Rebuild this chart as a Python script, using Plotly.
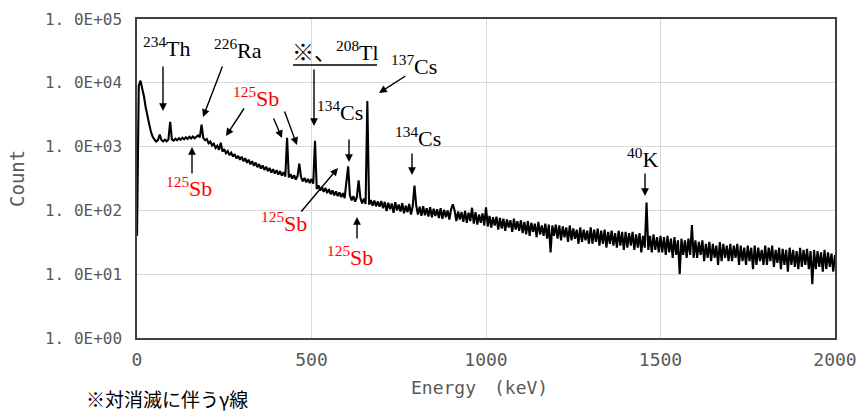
import plotly.graph_objects as go

# ---------------- data ----------------
ENERGY_START_KEV = 0
ENERGY_STEP_KEV = 5

counts_0000 = [40, 9000, 10800, 8200, 6100, 4100, 2900, 2250, 1700, 1420, 1290, 1200, 1260, 1190, 1270, 1205, 1285, 1215, 1290, 1225]
counts_0100 = [1300, 1240, 1330, 1260, 1355, 1280, 1380, 1300, 1400, 1320, 1425, 1340, 1440, 1350, 1430, 1330, 1400, 1300, 1360, 1260]
counts_0200 = [1310, 1130, 1200, 1040, 1110, 955, 1030, 890, 970, 835, 910, 785, 850, 735, 800, 695, 760, 655, 715, 620]
counts_0300 = [696, 588, 658, 556, 623, 527, 591, 500, 561, 475, 533, 452, 507, 431, 484, 411, 462, 392, 442, 377]
counts_0400 = [428, 365, 413, 352, 398, 339, 383, 327, 370, 316, 357, 305, 345, 294, 333, 285, 322, 275, 312, 268]
counts_0500 = [313, 262, 300, 216, 246, 204, 234, 195, 224, 187, 215, 179, 206, 172, 199, 167, 192, 161, 186, 156]
counts_0600 = [183, 149, 174, 143, 168, 137, 161, 133, 157, 129, 153, 126, 149, 123, 145, 119, 142, 116, 138, 114]
counts_0700 = [140, 108, 136, 98, 132, 104, 128, 92, 134, 100, 124, 96, 130, 90, 118, 94, 126, 86, 116, 92]
counts_0800 = [120, 86, 114, 82, 116, 84, 108, 80, 112, 78, 106, 82, 104, 76, 108, 74, 102, 78, 100, 72]
counts_0900 = [104, 70, 100, 68, 96, 72, 94, 66, 98, 64, 92, 68, 88, 62, 94, 60, 86, 64, 90, 58]
counts_1000 = [86, 56, 82, 54, 78, 58, 80, 50, 76, 52, 74, 48, 72, 54, 70, 46, 74, 50, 68, 48]
counts_1100 = [70, 44, 66, 42, 68, 40, 64, 46, 62, 38, 66, 42, 58, 40, 62, 36, 60, 22, 58, 40]
counts_1200 = [60, 36, 58, 34, 56, 38, 54, 32, 58, 34, 52, 36, 50, 30, 54, 32, 50, 34, 48, 30]
counts_1300 = [54, 30, 50, 32, 52, 28, 48, 30, 50, 26, 46, 30, 48, 28, 44, 26, 48, 28, 46, 24]
counts_1400 = [46, 26, 44, 28, 46, 24, 42, 26, 44, 22, 40, 26, 42, 24, 40, 22, 42, 24, 38, 22]
counts_1500 = [40, 22, 38, 20, 40, 22, 36, 18, 38, 20, 34, 10, 36, 20, 34, 18, 36, 20, 32, 18]
counts_1600 = [34, 18, 32, 20, 34, 16, 30, 18, 32, 16, 30, 18, 28, 14, 32, 16, 30, 18, 28, 16]
counts_1700 = [30, 16, 28, 18, 30, 14, 28, 16, 26, 14, 28, 16, 26, 12, 28, 14, 26, 16, 24, 14]
counts_1800 = [28, 14, 26, 16, 28, 13, 24, 15, 26, 12, 25, 14, 24, 11, 26, 14, 24, 13, 23, 12]
counts_1900 = [26, 13, 24, 14, 25, 12, 23, 7, 24, 12, 23, 13, 22, 11, 24, 12, 22, 13, 21, 11, 20]

# photo-peaks (energy keV, peak count)
peak_energies = [65, 95, 175, 185, 240, 430, 465, 510, 600, 605, 635, 660, 795, 905, 960, 1000, 1460, 1590]
peak_counts = [1550, 2450, 1500, 2200, 1150, 1380, 540, 1230, 280, 490, 295, 5200, 245, 125, 110, 112, 133, 59]

y_tick_values = [1, 10, 100, 1000, 10000, 100000]
y_tick_labels = ["1. 0E+00", "1. 0E+01", "1. 0E+02", "1. 0E+03", "1. 0E+04", "1. 0E+05"]
x_tick_values = [0, 500, 1000, 1500, 2000]

# ---------------- build series ----------------
counts = (counts_0000 + counts_0100 + counts_0200 + counts_0300 + counts_0400 +
          counts_0500 + counts_0600 + counts_0700 + counts_0800 + counts_0900 +
          counts_1000 + counts_1100 + counts_1200 + counts_1300 + counts_1400 +
          counts_1500 + counts_1600 + counts_1700 + counts_1800 + counts_1900)
energies = [ENERGY_START_KEV + i * ENERGY_STEP_KEV for i in range(len(counts))]
for e, c in zip(peak_energies, peak_counts):
    idx = int(round((e - ENERGY_START_KEV) / ENERGY_STEP_KEV))
    counts[idx] = max(counts[idx], c)

fig = go.Figure(go.Scatter(x=energies, y=counts, mode="lines",
                           line=dict(color="black", width=2.1),
                           hoverinfo="skip", showlegend=False))

# ---------------- layout ----------------
W, H = 862, 414
L, R, T, B = 137, 835, 19, 338


def px(x):
    return (x - L) / (R - L)


def py(y):
    return (B - y) / (B - T)


mono = "DejaVu Sans Mono"
fig.update_layout(
    width=W, height=H, autosize=False,
    margin=dict(l=L, r=W - R, t=T, b=H - B, pad=0, autoexpand=False),
    paper_bgcolor="white", plot_bgcolor="white",
    xaxis=dict(range=[0, 2000], tickvals=x_tick_values, showgrid=True,
               gridcolor="#d9d9d9", gridwidth=1, zeroline=False, automargin=False,
               showline=True, linecolor="#404040", linewidth=1.5, mirror=True,
               ticks="", tickfont=dict(family=mono, size=18, color="#595959"),
               ticklabelstandoff=5),
    yaxis=dict(type="log", range=[0, 5], tickvals=y_tick_values, automargin=False,
               ticktext=y_tick_labels, showgrid=True, gridcolor="#d9d9d9",
               gridwidth=1, zeroline=False, showline=True, linecolor="#404040",
               linewidth=1.5, mirror=True, ticks="",
               tickfont=dict(family=mono, size=16, color="#595959"),
               ticklabelstandoff=10),
)

annotations = []
serif = "Liberation Serif, Noto Sans CJK JP"
labels = [
    ("<sup>234</sup>Th", 167, 47, "black"),
    ("<sup>226</sup>Ra", 238, 49, "black"),
    ("<sup>125</sup>Sb", 256, 97, "red"),
    ("<sup>125</sup>Sb", 189, 187, "red"),
    ("※、<sup>208</sup>Tl", 335, 51, "black"),
    ("<sup>137</sup>Cs", 414, 65, "black"),
    ("<sup>134</sup>Cs", 340, 111, "black"),
    ("<sup>134</sup>Cs", 418, 137, "black"),
    ("<sup>125</sup>Sb", 284, 222, "red"),
    ("<sup>125</sup>Sb", 350, 256, "red"),
    ("<sup>40</sup>K", 642, 158, "black"),
]
for text, x, y, col in labels:
    annotations.append(dict(text=text, x=px(x), y=py(y), xref="paper", yref="paper",
                            xanchor="center", yanchor="middle", showarrow=False,
                            font=dict(family=serif, size=22, color=col)))

arrows = [  # (tail x, tail y, tip x, tip y) in pixels
    (163, 65, 163, 111),
    (223, 65, 203, 117),
    (245, 107, 226, 136),
    (273, 117, 282, 138),
    (284, 110, 297, 145),
    (192, 175, 192, 147),
    (314, 68, 314, 126),
    (407, 75, 379, 93),
    (349, 138, 349, 162),
    (412, 152, 412, 175),
    (300, 213, 338, 168),
    (357, 240, 357, 217),
    (645, 172, 645, 196),
]
for tx, ty, hx, hy in arrows:
    annotations.append(dict(text="", x=px(hx), y=py(hy), xref="paper", yref="paper",
                            ax=tx - hx, ay=ty - hy, showarrow=True, arrowhead=2,
                            arrowsize=1.1, arrowwidth=1.4, arrowcolor="black",
                            standoff=0, startstandoff=0))

annotations.append(dict(text="Count", x=px(17), y=py(179), xref="paper", yref="paper",
                        textangle=-90, showarrow=False, xanchor="center", yanchor="middle",
                        font=dict(family=mono, size=19, color="#595959")))
annotations.append(dict(text="Energy\u3000(keV)", x=px(479), y=py(387), xref="paper",
                        yref="paper", showarrow=False, xanchor="center", yanchor="middle",
                        font=dict(family=mono, size=18, color="#595959")))
annotations.append(dict(text="※対消滅に伴うγ線", x=px(84), y=py(398), xref="paper",
                        yref="paper", showarrow=False, xanchor="left", yanchor="middle",
                        font=dict(family="Noto Sans CJK JP", size=19, color="black")))
fig.update_layout(annotations=annotations)

fig.add_shape(type="line", xref="paper", yref="paper", x0=px(293), x1=px(377),
              y0=py(65), y1=py(65), line=dict(color="black", width=1.5))

fig.write_html("out.html", config={"displayModeBar": False},
               post_script="document.body.style.margin='0px';")
